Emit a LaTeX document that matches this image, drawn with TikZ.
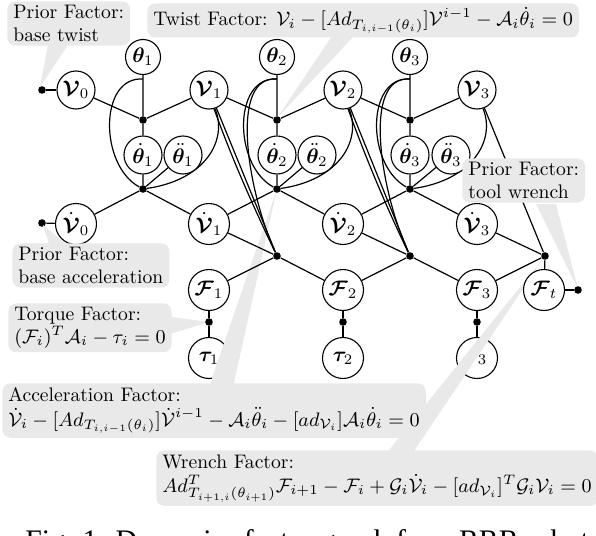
\RequirePackage{fix-cm}
\documentclass[tikz,border=0pt]{standalone}
\usepackage{amsmath}
\usepackage{bm}
\usepackage[no-math]{fontspec}
\newfontfamily\capfont{Liberation Serif}
\definecolor{cgray}{RGB}{233,233,233}
\pgfdeclarelayer{tailsA}
\pgfdeclarelayer{taus}
\pgfdeclarelayer{tailsB}
\pgfdeclarelayer{edges}
\pgfdeclarelayer{top}
\pgfsetlayers{tailsA,taus,tailsB,edges,main,top}
\begin{document}
\begin{tikzpicture}[x=0.5pt,y=-0.5pt,
  var/.style={circle,draw,line width=0.55pt,fill=white,inner sep=0pt,minimum size=19pt,font=\fontsize{10.5}{12}\selectfont},
  smallvar/.style={var,minimum size=17.5pt},
  bigvar/.style={var,minimum size=20.5pt},
  fac/.style={circle,fill=black,inner sep=0pt,minimum size=3.8pt},
  edge/.style={line width=0.6pt},
  callbox/.style={fill=cgray,rounded corners=4pt,align=left,inner xsep=3pt,inner ysep=2pt,anchor=north west,font=\fontsize{9.8}{11.3}\selectfont}]
\useasboundingbox (0,0) rectangle (596,536);

% variable nodes
\node[smallvar] (th1) at (143,57) {$\bm{\theta}_1$};
\node[smallvar] (th2) at (277,57) {$\bm{\theta}_2$};
\node[smallvar] (th3) at (410,57) {$\bm{\theta}_3$};
\node[var] (V0) at (76,90) {$\bm{\mathcal{V}}_0$};
\node[var] (V1) at (209,90) {$\bm{\mathcal{V}}_1$};
\node[var] (V2) at (343,90) {$\bm{\mathcal{V}}_2$};
\node[var] (V3) at (477,90) {$\bm{\mathcal{V}}_3$};
\node[var] (thd1) at (143,155) {$\dot{\bm{\theta}}_1$};
\node[var] (thd2) at (277,155) {$\dot{\bm{\theta}}_2$};
\node[var] (thd3) at (410,155) {$\dot{\bm{\theta}}_3$};
\node[var] (thdd1) at (183,155) {$\ddot{\bm{\theta}}_1$};
\node[var] (thdd2) at (317,155) {$\ddot{\bm{\theta}}_2$};
\node[var] (thdd3) at (451,155) {$\ddot{\bm{\theta}}_3$};
\node[bigvar] (Vd0) at (76,224) {$\dot{\bm{\mathcal{V}}}_0$};
\node[bigvar] (Vd1) at (209,224) {$\dot{\bm{\mathcal{V}}}_1$};
\node[bigvar] (Vd2) at (343,224) {$\dot{\bm{\mathcal{V}}}_2$};
\node[bigvar] (Vd3) at (477,224) {$\dot{\bm{\mathcal{V}}}_3$};
\node[bigvar] (F1) at (209,290) {$\bm{\mathcal{F}}_1$};
\node[bigvar] (F2) at (343,290) {$\bm{\mathcal{F}}_2$};
\node[bigvar] (F3) at (477,290) {$\bm{\mathcal{F}}_3$};
\node[bigvar] (Ft) at (544,290) {$\bm{\mathcal{F}}_t$};
\begin{pgfonlayer}{taus}
\node[bigvar] (tau1) at (209,358) {$\bm{\tau}_1$};
\node[bigvar] (tau2) at (343,358) {$\bm{\tau}_2$};
\node[bigvar] (tau3) at (477,358) {$\bm{\tau}_3$};
\end{pgfonlayer}

% factor nodes
\node[fac] (P0) at (42,90) {};
\node[fac] (Pd0) at (42,223) {};
\node[fac] (Pt) at (578,290) {};
\node[fac] (T1) at (143,120) {};
\node[fac] (T2) at (277,120) {};
\node[fac] (T3) at (410,120) {};
\node[fac] (A1) at (143,189) {};
\node[fac] (A2) at (277,189) {};
\node[fac] (A3) at (410,189) {};
\node[fac] (W1) at (277,256) {};
\node[fac] (W2) at (410,256) {};
\node[fac] (W3) at (545,256) {};
\node[fac] (Q1) at (209,322) {};
\node[fac] (Q2) at (343,322) {};
\node[fac] (Q3) at (477,322) {};

% connectors
\begin{pgfonlayer}{edges}
\draw[edge] (P0) -- (V0);
\draw[edge] (Pd0) -- (Vd0);
\draw[edge] (Ft) -- (Pt);
\draw[edge] (V0) -- (T1) (V1) -- (T1) (th1) -- (T1) (T1) -- (thd1);
\draw[edge] (V1) -- (T2) (V2) -- (T2) (th2) -- (T2) (T2) -- (thd2);
\draw[edge] (V2) -- (T3) (V3) -- (T3) (th3) -- (T3) (T3) -- (thd3);
\draw[edge] (thd1) -- (A1) (thdd1) -- (A1) (Vd0) -- (A1) (Vd1) -- (A1);
\draw[edge] (thd2) -- (A2) (thdd2) -- (A2) (Vd1) -- (A2) (Vd2) -- (A2);
\draw[edge] (thd3) -- (A3) (thdd3) -- (A3) (Vd2) -- (A3) (Vd3) -- (A3);
\draw[edge] (Vd1) -- (W1) (F1) -- (W1) (F2) -- (W1) (V1) -- (W1);
\draw[edge] (Vd2) -- (W2) (F2) -- (W2) (F3) -- (W2) (V2) -- (W2);
\draw[edge] (Vd3) -- (W3) (F3) -- (W3) (Ft) -- (W3) (V3) -- (W3);
\draw[edge] (F1) -- (Q1) -- (tau1);
\draw[edge] (F2) -- (Q2) -- (tau2);
\draw[edge] (F3) -- (Q3) -- (tau3);
% theta_i to acceleration factor
\draw[edge] (th1.south) ++(0,4) .. controls +(-44,-3) and +(-44,-24) .. (A1);
\draw[edge] (th2.south) ++(0,4) .. controls +(-44,-3) and +(-44,-24) .. (A2);
\draw[edge] (th3.south) ++(0,4) .. controls +(-44,-3) and +(-44,-24) .. (A3);
% V_i to acceleration factor
\draw[edge] (V1.-72) .. controls +(13,32) and +(62,-9) .. (A1);
\draw[edge] (V2.-72) .. controls +(13,32) and +(62,-9) .. (A2);
\draw[edge] (V3.-72) .. controls +(13,32) and +(62,-9) .. (A3);
% theta_{i+1} to wrench factor
\draw[edge] (th2.south) ++(0,4) .. controls +(-48,-4) and +(-30,-66) .. (W1);
\draw[edge] (th3.south) ++(0,4) .. controls +(-48,-4) and +(-30,-66) .. (W2);
% second V_i to wrench factor
\draw[edge] (V1.-75) .. controls +(18,50) and +(-24,-50) .. (W1);
\draw[edge] (V2.-75) .. controls +(18,50) and +(-24,-50) .. (W2);
\end{pgfonlayer}

% callout tails
\begin{pgfonlayer}{tailsA}
\fill[cgray] (48,45) -- (68,45) -- (40,87) -- cycle;
\fill[cgray] (332,36) -- (354,36) -- (277,118) -- cycle;
\fill[cgray] (536,204) -- (556,204) -- (578,289) -- cycle;
\fill[cgray] (164,316) -- (164,336) -- (209,322) -- cycle;
\end{pgfonlayer}
\begin{pgfonlayer}{tailsB}
\fill[cgray] (209,387) -- (233,387) -- (277,189) -- cycle;
\fill[cgray] (386,454) -- (412,454) -- (545,256) -- cycle;
\end{pgfonlayer}

% callout boxes
\begin{pgfonlayer}{top}
\fill[cgray] (50,247) -- (70,247) -- (43,225) -- cycle;
\node[callbox] (cb1) at (7,1) {Prior Factor:\\base twist};
\node[callbox] (cb2) at (147,3) {Twist Factor: $\mathcal{V}_i-[Ad_{T_{i,i-1}(\theta_i)}]\mathcal{V}^{i-1}-\mathcal{A}_i\dot{\theta}_i=0$};
\node[callbox] (cb3) at (462,158) {Prior Factor:\\tool wrench};
\node[callbox] (cb4) at (12,243) {Prior Factor:\\base acceleration};
\node[callbox] (cb5) at (8,303) {Torque Factor:\\$(\mathcal{F}_i)^T\mathcal{A}_i-\tau_i=0$};
\node[callbox] (cb6) at (2,383) {Acceleration Factor:\\[1pt]$\dot{\mathcal{V}}_i-[Ad_{T_{i,i-1}(\theta_i)}]\dot{\mathcal{V}}^{i-1}-\mathcal{A}_i\ddot{\theta}_i-[ad_{\mathcal{V}_i}]\mathcal{A}_i\dot{\theta}_i=0$};
\node[callbox] (cb7) at (156,450) {Wrench Factor:\\[1pt]$Ad^T_{T_{i+1,i}(\theta_{i+1})}\mathcal{F}_{i+1}-\mathcal{F}_i+\mathcal{G}_i\dot{\mathcal{V}}_i-[ad_{\mathcal{V}_i}]^T\mathcal{G}_i\mathcal{V}_i=0$};
\end{pgfonlayer}

% caption (cut by the frame)
\begin{scope}
\clip (0,0) rectangle (596,536);
\node[anchor=base west,font=\capfont\fontsize{14.9}{17}\selectfont,inner sep=0pt] (cap) at (25,550) {Fig. 1: Dynamics factor graph for a RRR robot};
\end{scope}
\end{tikzpicture}
\end{document}
